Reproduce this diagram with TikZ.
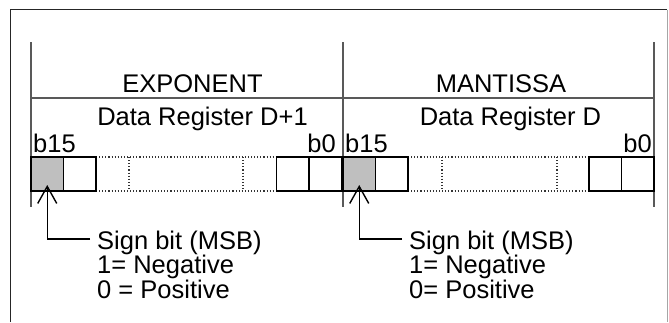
\documentclass[tikz,border=0pt]{standalone}
\usepackage{fontspec}
\setmainfont{Liberation Sans}
\usetikzlibrary{arrows.meta}
\begin{document}
\begin{tikzpicture}[x=1pt,y=-1pt,
  lbl/.style={inner sep=0pt,font=\fontsize{25.5}{30}\selectfont},
  cell/.style={draw=black,line width=1.6pt,minimum width=32.5pt,minimum height=34pt,inner sep=0pt,outer sep=0pt},
  dotline/.style={draw=black!80,line width=1.1pt,dotted},
  divider/.style={draw=black!65,line width=2.2pt},
  frame/.style={draw=black!85,line width=1.7pt},
  signarrow/.style={line width=1.4pt,-{Straight Barb[length=17pt,width=19pt,line width=1.4pt]}}]
\useasboundingbox (0,0) rectangle (669,322);
% outer frame
\draw[frame] (10.5,322) -- (10.5,9.5) -- (667,9.5);
\draw[draw=black!35,line width=1.4pt] (667.5,9.5) -- (667.5,322);
% dividers
\draw[divider] (31,42) -- (31,207);
\draw[divider] (343,42) -- (343,207);
\draw[divider] (654,42) -- (654,207);
\draw[divider] (31,98) -- (654,98);
% headings
\node[lbl,anchor=base] (exp) at (192.5,92) {EXPONENT};
\node[lbl,anchor=base] (man) at (501,92) {MANTISSA};
\node[lbl,anchor=base] (dr1) at (202.5,125) {Data Register D+1};
\node[lbl,anchor=base] (dr0) at (510.5,125) {Data Register D};
\node[lbl,anchor=base west] (b15l) at (33,152) {b15};
\node[lbl,anchor=base east] (b0l) at (336,152) {b0};
\node[lbl,anchor=base west] (b15r) at (345,152) {b15};
\node[lbl,anchor=base east] (b0r) at (652,152) {b0};
% left register
\draw[dotline] (96,157) -- (276,157) (96,191) -- (276,191) (129,157) -- (129,191) (243,157) -- (243,191);
\node[cell,fill=black!25] (l1) at (47.25,174) {};
\node[cell] (l2) at (79.75,174) {};
\node[cell] (l3) at (292.75,174) {};
\node[cell] (l4) at (325.25,174) {};
% right register
\draw[dotline] (408,157) -- (589,157) (408,191) -- (589,191) (442,157) -- (442,191) (557,157) -- (557,191);
\node[cell,fill=black!25] (r1) at (359.25,174) {};
\node[cell] (r2) at (391.75,174) {};
\node[cell] (r3) at (605.25,174) {};
\node[cell] (r4) at (637.75,174) {};
% sign bit texts
\node[lbl,anchor=base west] (sl1) at (97,249) {Sign bit (MSB)};
\node[lbl,anchor=base west] (sl2) at (97,273.5) {1= Negative};
\node[lbl,anchor=base west] (sl3) at (97,298) {0 = Positive};
\node[lbl,anchor=base west] (sr1) at (409,249) {Sign bit (MSB)};
\node[lbl,anchor=base west] (sr2) at (409,273.5) {1= Negative};
\node[lbl,anchor=base west] (sr3) at (409,298) {0= Positive};
% arrows
\coordinate (cl) at (47.25,239);
\coordinate (cr) at (359.25,239);
\draw[line width=1.4pt] (sl1.west |- cl) ++(-7,0) -- (cl);
\draw[signarrow] (cl) -- ([yshift=6pt]l1.south);
\draw[line width=1.4pt] (sr1.west |- cr) ++(-7,0) -- (cr);
\draw[signarrow] (cr) -- ([yshift=6pt]r1.south);
\end{tikzpicture}
\end{document}
